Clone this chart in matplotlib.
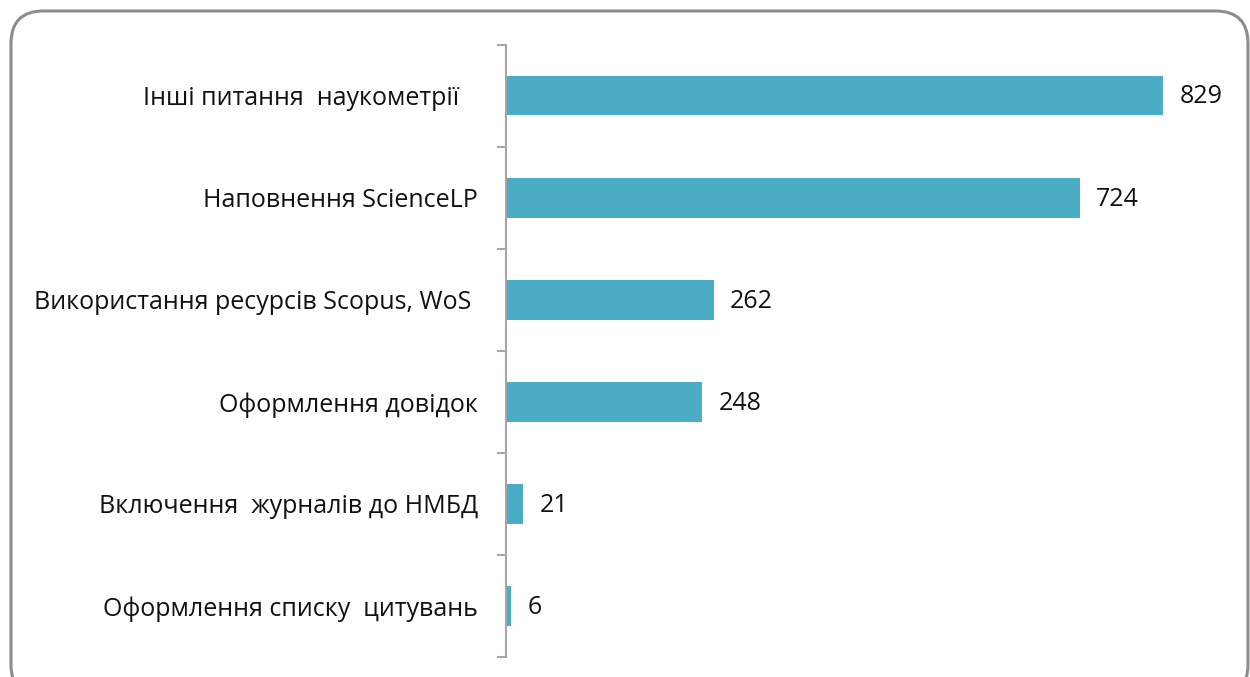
import matplotlib.pyplot as plt
from matplotlib.patches import FancyBboxPatch

plt.rcParams['font.family'] = ['Open Sans', 'DejaVu Sans']

categories = ["Інші питання  наукометрії   ",
              "Наповнення ScienceLP",
              "Використання ресурсів Scopus, WoS ",
              "Оформлення довідок",
              "Включення  журналів до НМБД",
              "Оформлення списку  цитувань"]
values = [829, 724, 262, 248, 21, 6]
bar_color = '#4BACC6'

fig = plt.figure(figsize=(12.5, 6.77), dpi=100)

# рамка навколо діаграми
frame = FancyBboxPatch((11 / 1250, -20 / 677), 1237 / 1250, 686 / 677,
                       boxstyle="round,pad=0,rounding_size=0.026",
                       transform=fig.transFigure, facecolor='none',
                       edgecolor='#8c8c8c', linewidth=2.2, zorder=-1,
                       mutation_aspect=1250 / 677)
fig.patches.append(frame)

ax = fig.add_axes([506 / 1250, 1 - 657 / 677, 713 / 1250, 612.5 / 677])
ax.set_facecolor('none')

n = len(categories)
pos = list(range(n))[::-1]
bars = ax.barh(pos, values, height=0.39, color=bar_color)
ax.set_xlim(0, 900)
ax.set_ylim(-0.5, n - 0.5)

for p, v in zip(pos, values):
    ax.annotate(str(v), (v, p), xytext=(12, -1), textcoords='offset points',
                va='center', ha='left', fontsize=18, color='#111111')

ax.set_yticks(pos)
ax.set_yticklabels(categories, fontsize=18, color='#111111')
ax.tick_params(axis='y', which='major', length=0, pad=20)
ax.set_yticks([i - 0.5 for i in range(n + 1)], minor=True)
ax.tick_params(axis='y', which='minor', length=6.5, width=1.5, color='#a6a6a6')

ax.set_xticks([])
for s in ['top', 'right', 'bottom']:
    ax.spines[s].set_visible(False)
ax.spines['left'].set_color('#a6a6a6')
ax.spines['left'].set_linewidth(1.5)

fig.savefig('out.png', dpi=100)
